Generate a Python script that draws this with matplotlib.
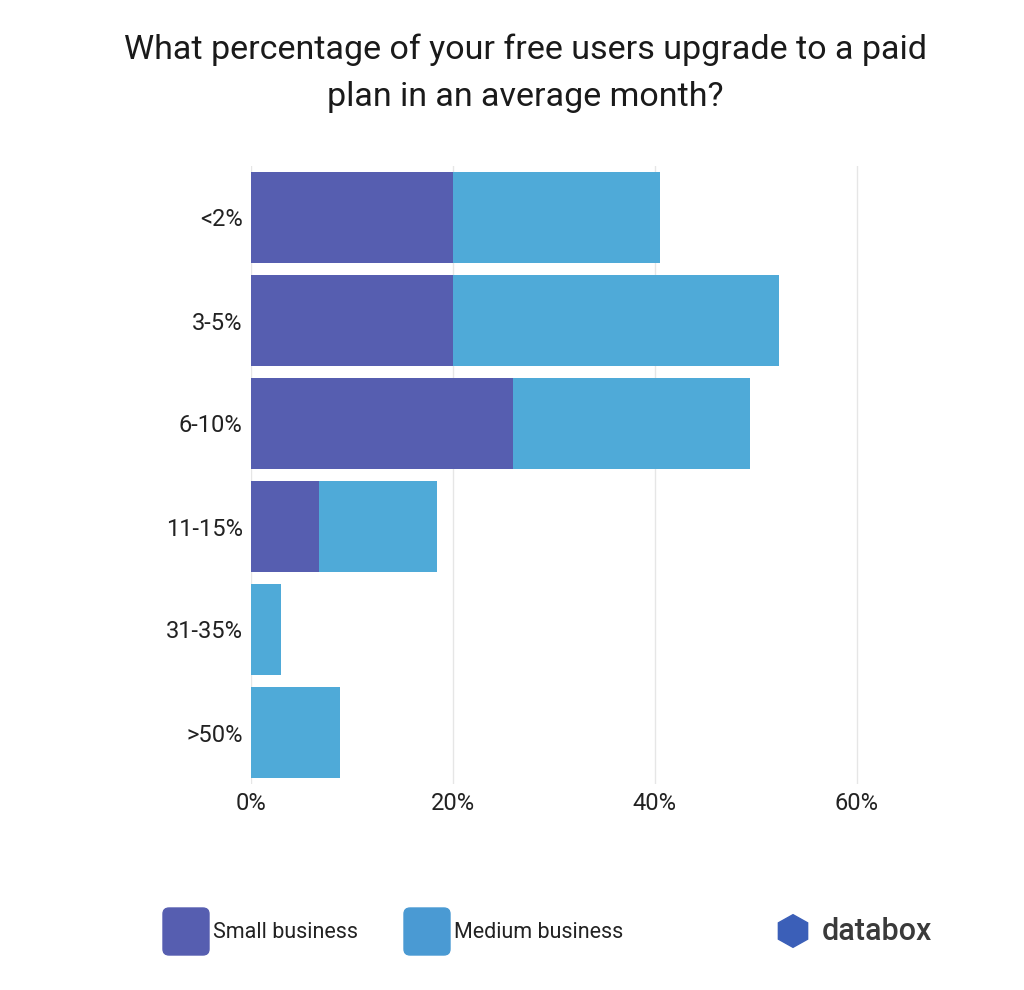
import matplotlib.pyplot as plt
from matplotlib.patches import FancyBboxPatch, RegularPolygon

plt.rcParams['font.family'] = ['Roboto', 'DejaVu Sans']

# data
categories = ['<2%', '3-5%', '6-10%', '11-15%', '31-35%', '>50%']
small_business = [20.0, 20.0, 26.0, 6.7, 0.0, 0.0]
medium_business = [20.5, 32.3, 23.4, 11.7, 3.0, 8.8]
xticks = [0, 20, 40, 60]
xtick_labels = ['0%', '20%', '40%', '60%']

small_color = '#565eb0'
medium_color = '#4faad8'

fig = plt.figure(figsize=(10.24, 9.9), dpi=100)
ax = fig.add_axes([251 / 1024, 1 - 784 / 990, 656 / 1024, 618 / 990])

y = list(range(len(categories)))
ax.barh(y, small_business, height=0.88, color=small_color)
ax.barh(y, medium_business, left=small_business, height=0.88, color=medium_color)

ax.set_xlim(0, 65)
ax.set_ylim(len(categories) - 0.5, -0.5)
ax.set_yticks(y)
ax.set_yticklabels(categories, fontsize=17, color='#222222')
ax.set_xticks(xticks)
ax.set_xticklabels(xtick_labels, fontsize=17, color='#222222')
ax.tick_params(length=0, pad=6)
ax.grid(axis='x', color='#e6e6e6', linewidth=1)
ax.set_axisbelow(True)
for s in ax.spines.values():
    s.set_visible(False)

# title
fig.text(0.513, 0.966, 'What percentage of your free users upgrade to a paid\nplan in an average month?',
         ha='center', va='top', fontsize=24.5, color='#1a1a1a', linespacing=1.6)

# legend
for x0, col, lab in [(163, small_color, 'Small business'), (404, '#4a9ad3', 'Medium business')]:
    fig.patches.append(FancyBboxPatch((x0 / 1024, 1 - 955 / 990), 46 / 1024, 47 / 990,
                                      boxstyle='round,pad=0,rounding_size=0.006',
                                      transform=fig.transFigure, color=col))
    fig.text((x0 + 50) / 1024, 1 - 932 / 990, lab, ha='left', va='center', fontsize=15.5, color='#222222')

# databox logo
fig.patches.append(RegularPolygon((793 / 1024, 1 - 931 / 990), 6, radius=0.0165,
                                  transform=fig.transFigure, color='#3b5fb8'))
fig.text(822 / 1024, 1 - 931 / 990, 'databox', ha='left', va='center', fontsize=22,
         fontweight='medium', color='#3a3a3a')

fig.savefig('out.png', dpi=100)
